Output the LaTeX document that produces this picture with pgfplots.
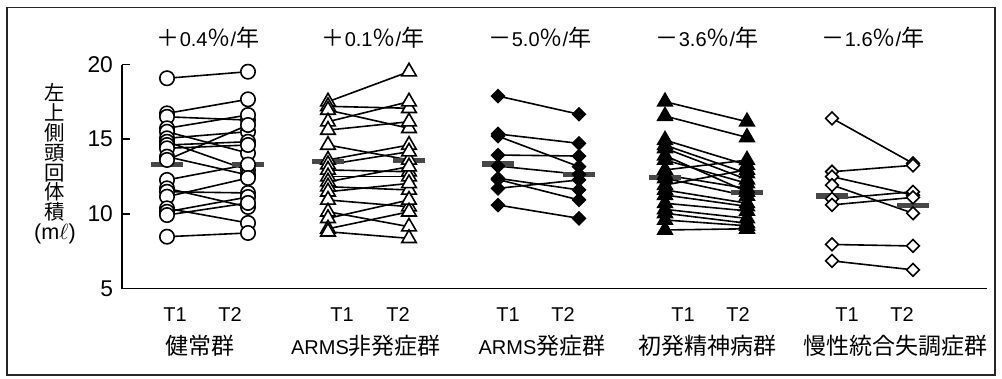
\documentclass[border=0pt]{standalone}
\usepackage{fontspec}
\setmainfont{Liberation Sans}
\newfontfamily\cjk{Noto Sans CJK JP}
\usepackage{pgfplots}
\usepackage{pgfplotstable}
\pgfplotsset{compat=1.18}
\newcommand{\J}[1]{{\cjk\fontsize{11.5}{12}\selectfont #1}}

% T1 (a) and T2 (b) volumes, one row per subject
\pgfplotstableread{
a b
19.08 19.52
16.73 17.67
16.50 16.28
15.73 16.62
15.50 14.07
15.06 15.50
14.83 12.93
14.61 14.83
14.39 14.61
13.83 12.60
13.61 15.95
12.27 13.30
11.71 10.46
11.48 11.40
11.15 12.40
10.37 9.39
10.14 11.13
9.92 10.73
8.47 8.72
}\gA
\pgfplotstableread{
a b
17.51 19.52
17.20 17.07
16.95 15.73
16.17 17.51
15.61 16.17
14.61 13.61
13.61 14.61
13.30 14.16
12.94 12.82
12.49 12.49
12.15 13.16
11.82 11.60
11.48 12.04
10.93 10.48
10.14 9.14
9.70 10.93
9.00 10.14
8.80 8.36
}\gB
\pgfplotstableread{
a b
17.89 16.67
15.35 14.72
15.20 13.16
13.94 13.87
13.20 12.65
12.38 11.60
12.30 10.93
11.71 12.27
10.59 9.70
}\gC
\pgfplotstableread{
a b
17.51 16.17
16.55 15.12
14.94 13.27
14.60 12.71
14.39 12.30
13.90 11.48
13.61 12.04
12.94 13.60
12.60 11.70
12.38 11.20
11.93 12.95
11.60 10.71
11.26 10.50
10.71 10.20
10.30 9.70
10.04 9.37
9.59 9.20
8.92 9.00
}\gD
\pgfplotstableread{
a b
16.40 13.38
12.82 13.25
12.49 11.26
11.93 10.04
11.00 11.48
10.60 11.10
7.95 7.85
6.85 6.25
}\gE

\begin{document}
\begin{tikzpicture}
\begin{axis}[
  scale only axis, width=432.5pt, height=112pt,
  xmin=122, xmax=987, ymin=5, ymax=20,
  axis x line*=bottom, axis y line*=left,
  axis line style={-, line width=0.8pt},
  ytick={5,10,15,20}, tick align=inside, major tick length=4pt,
  tick style={line width=0.8pt, black},
  xtick={175,230,342,398,508,563,683,738,847,902},
  xticklabels={T1,T2,T1,T2,T1,T2,T1,T2,T1,T2},
  xtick style={draw=none},
  xticklabel style={anchor=base, yshift=-16.6pt, font=\fontsize{10}{11}\selectfont},
  yticklabel style={font=\fontsize{11.4}{13}\selectfont, xshift=-1pt},
  /pgf/number format/assume math mode=true,
  clip=false,
  conn/.style={black, line width=0.8pt, -},
  medbar/.style={black!72, line width=2.6pt, no marks},
  mcirc/.style={only marks, mark=*, mark size=3.6pt, mark options={fill=white, draw=black, line width=0.8pt}},
  mtri/.style={only marks, mark=triangle*, mark size=4.2pt, mark options={fill=white, draw=black, line width=0.8pt}},
  mtrif/.style={only marks, mark=triangle*, mark size=4.2pt, mark options={fill=black, draw=black, line width=0.8pt}},
  mdiaf/.style={only marks, mark=square*, mark size=2.25pt, mark options={rotate=45, fill=black, draw=black, line width=0.8pt}},
  mdia/.style={only marks, mark=square*, mark size=2.25pt, mark options={rotate=45, fill=white, draw=black, line width=0.8pt}},
]
% bounding box and outer frame
\path (axis cs:0,24.32) rectangle (axis cs:1002,-0.993);
\draw[line width=0.75pt, black!85] (axis cs:7,23.83) rectangle (axis cs:995,-0.79);

% connecting lines
\addplot[conn, quiver={u=81, v=\thisrow{b}-\thisrow{a}}] table[x expr=167, y=a] {\gA};
\addplot[conn, quiver={u=81, v=\thisrow{b}-\thisrow{a}}] table[x expr=328, y=a] {\gB};
\addplot[conn, quiver={u=81, v=\thisrow{b}-\thisrow{a}}] table[x expr=498, y=a] {\gC};
\addplot[conn, quiver={u=82, v=\thisrow{b}-\thisrow{a}}] table[x expr=665, y=a] {\gD};
\addplot[conn, quiver={u=81, v=\thisrow{b}-\thisrow{a}}] table[x expr=832, y=a] {\gE};

% markers
\addplot[mcirc] table[x expr=167, y=a] {\gA};
\addplot[mcirc] table[x expr=248, y=b] {\gA};
\addplot[mtri] table[x expr=328, y=a] {\gB};
\addplot[mtri] table[x expr=409, y=b] {\gB};
\addplot[mdiaf] table[x expr=498, y=a] {\gC};
\addplot[mdiaf] table[x expr=579, y=b] {\gC};
\addplot[mtrif] table[x expr=665, y=a] {\gD};
\addplot[mtrif] table[x expr=747, y=b] {\gD};
\addplot[mdia] table[x expr=832, y=a] {\gE};
\addplot[mdia] table[x expr=913, y=b] {\gE};

% median bars
\addplot[medbar] coordinates {(151,13.32) (183,13.32)};
\addplot[medbar] coordinates {(232,13.32) (264,13.32)};
\addplot[medbar] coordinates {(312,13.49) (344,13.49)};
\addplot[medbar] coordinates {(393,13.56) (425,13.56)};
\addplot[medbar] coordinates {(482,13.34) (514,13.34)};
\addplot[medbar] coordinates {(563,12.65) (595,12.65)};
\addplot[medbar] coordinates {(649,12.45) (681,12.45)};
\addplot[medbar] coordinates {(731,11.44) (763,11.44)};
\addplot[medbar] coordinates {(816,11.19) (848,11.19)};
\addplot[medbar] coordinates {(897,10.55) (929,10.55)};

% annual change
\begin{scope}[every node/.style={anchor=base, font=\fontsize{10}{11}\selectfont}]
\node at (axis cs:208,21.2) {\J{＋}0.4\J{％}/\J{年}};
\node at (axis cs:373,21.2) {\J{＋}0.1\J{％}/\J{年}};
\node at (axis cs:540,21.2) {\J{－}5.0\J{％}/\J{年}};
\node at (axis cs:707,21.2) {\J{－}3.6\J{％}/\J{年}};
\node at (axis cs:873,21.2) {\J{－}1.6\J{％}/\J{年}};
% group names
\node at (axis cs:200,0.6) {\J{健常群}};
\node at (axis cs:366,0.6) {ARMS\J{非発症群}};
\node at (axis cs:542,0.6) {ARMS\J{発症群}};
\node at (axis cs:707,0.6) {\J{初発精神病群}};
\node at (axis cs:895,0.6) {\J{慢性統合失調症群}};
\end{scope}
% y label
\node[align=center, inner sep=0pt, font=\cjk\fontsize{10.2}{9.9}\selectfont] at (axis cs:55,13.35)
  {左\\上\\側\\頭\\回\\体\\積\\{\fontspec{Liberation Sans}\fontsize{10.8}{9.9}\selectfont(m$\ell$)}};
\end{axis}
\end{tikzpicture}
\end{document}
